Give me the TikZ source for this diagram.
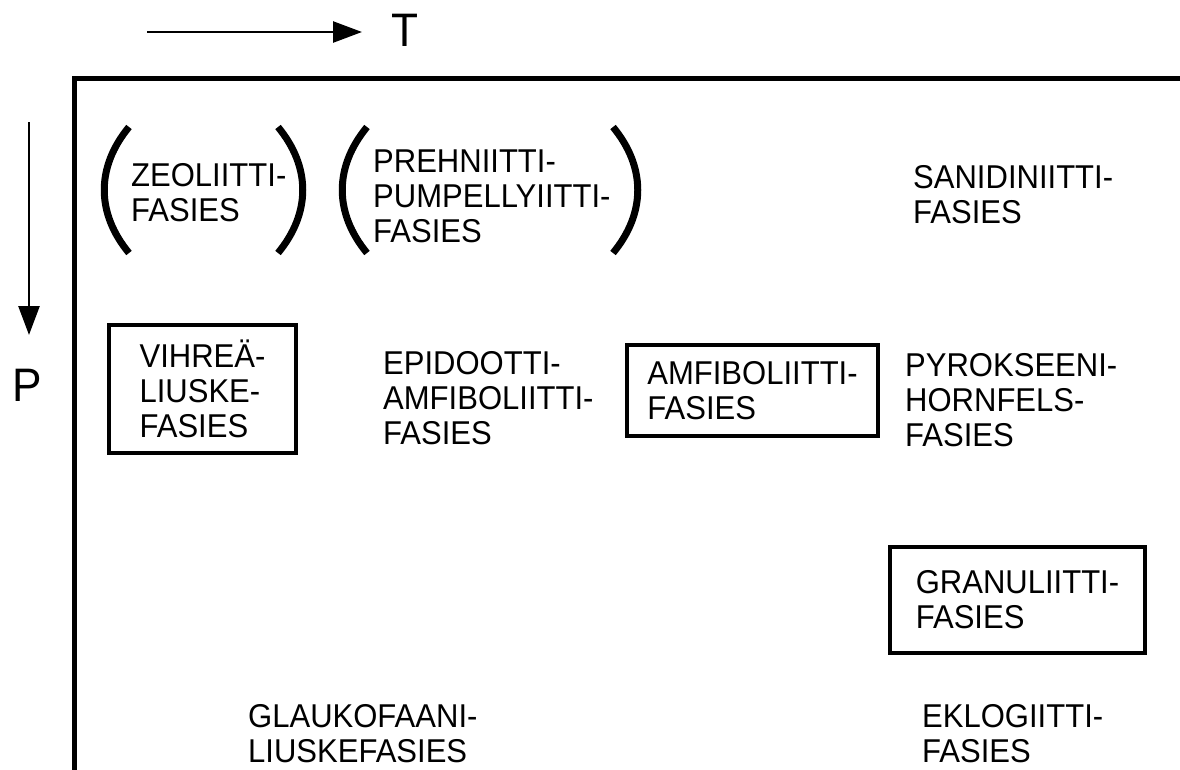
\documentclass[tikz,border=0pt]{standalone}
\usepackage{fontspec}
\setmainfont[FakeStretch=0.94]{Liberation Sans}
\usetikzlibrary{arrows.meta}
\tikzset{
  facies/.style={align=left, inner sep=0pt, anchor=base west, font=\fontsize{33}{35}\selectfont},
  faciesbox/.style={draw, line width=4.5pt, align=left, inner sep=0pt, font=\fontsize{33}{35}\selectfont},
  axislabel/.style={inner sep=0pt, font=\fontsize{47}{50}\selectfont},
  axisarrow/.style={line width=2.5pt, -{Triangle[length=29pt,width=21pt]}},
  bracket/.style={line width=7pt},
  frame/.style={line width=5pt}
}
\begin{document}
\begin{tikzpicture}[x=1pt, y=-1pt]
\useasboundingbox (0,0) rectangle (1180,769);

\coordinate (tstart) at (147,32);
\coordinate (tend) at (362,32);
\coordinate (pstart) at (29,122);
\coordinate (pend) at (29,335);
\node[axislabel, anchor=base west] (T) at (391,46) {T};
\node[axislabel, anchor=center] (P) at (27,385) {P};
\path[draw,axisarrow] (tstart) -- (tend);
\path[draw,axisarrow] (pstart) -- (pend);

\draw[frame] (1185,78) -| (74.5,775);

\node[facies] (zeoliitti) at (131,221) {ZEOLIITTI-\\FASIES};
\node[facies] (prehniitti) at (373,242) {PREHNIITTI-\\PUMPELLYIITTI-\\FASIES};
\node[facies] (sanidiniitti) at (913,223) {SANIDINIITTI-\\FASIES};
\node[faciesbox, minimum width=187pt, minimum height=128pt] (vihrea) at (202.5,389) {VIHREÄ-\\LIUSKE-\\FASIES};
\node[facies] (epidootti) at (383,444) {EPIDOOTTI-\\AMFIBOLIITTI-\\FASIES};
\node[faciesbox, minimum width=251pt, minimum height=91pt] (amfiboliitti) at (752.5,390.5) {AMFIBOLIITTI-\\FASIES};
\node[facies] (pyrokseeni) at (905,446) {PYROKSEENI-\\HORNFELS-\\FASIES};
\node[faciesbox, minimum width=255pt, minimum height=106pt] (granuliitti) at (1017.5,600) {GRANULIITTI-\\FASIES};
\node[facies] (glaukofaani) at (248,762) {GLAUKOFAANI-\\LIUSKEFASIES};
\node[facies] (eklogiitti) at (922,762) {EKLOGIITTI-\\FASIES};

\draw[bracket] (129,127) .. controls (96,167) and (96,213) .. (129,253);
\draw[bracket] (278,127) .. controls (311,167) and (311,213) .. (278,253);
\draw[bracket] (367,127) .. controls (334,167) and (334,213) .. (367,253);
\draw[bracket] (613,127) .. controls (646,167) and (646,213) .. (613,253);
\end{tikzpicture}
\end{document}
